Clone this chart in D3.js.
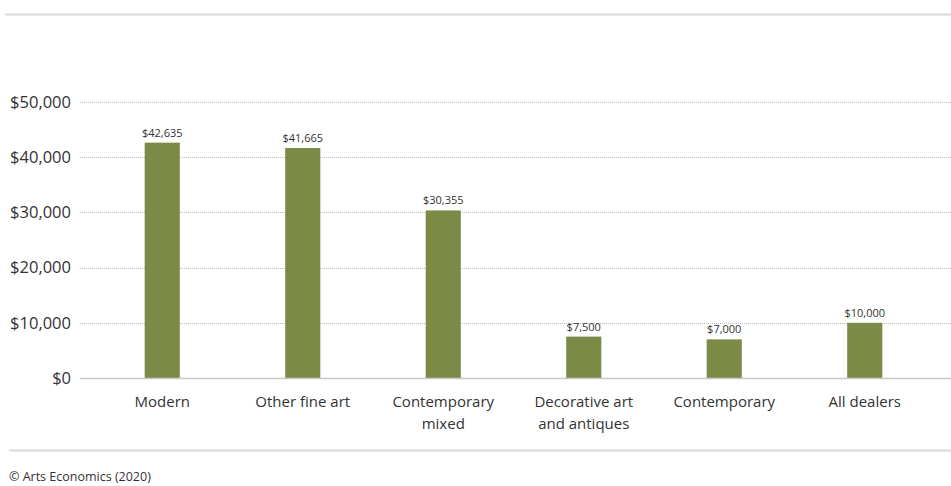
<!DOCTYPE html>
<html><head><meta charset="utf-8">
<script src="https://cdnjs.cloudflare.com/ajax/libs/d3/7.8.5/d3.min.js"></script>
<style>body{margin:0;background:#fff;} text{font-family:"Open Sans",sans-serif;fill:#333;}</style>
</head><body><svg id="c" width="951" height="486"></svg>
<script>
const categories = [["Modern"],["Other fine art"],["Contemporary","mixed"],["Decorative art","and antiques"],["Contemporary"],["All dealers"]];
const values = [42635, 41665, 30355, 7500, 7000, 10000];
const valueLabels = ["$42,635","$41,665","$30,355","$7,500","$7,000","$10,000"];
const yTicks = [0, 10000, 20000, 30000, 40000, 50000];
const yTickLabels = ["$0","$10,000","$20,000","$30,000","$40,000","$50,000"];

const svg = d3.select("#c");
const x = d3.scaleBand().domain(d3.range(values.length)).range([92, 935]).paddingInner(0.75).paddingOuter(0.375);
const y = d3.scaleLinear().domain([0, 50000]).range([378, 102]);

svg.append("line").attr("x1",5).attr("x2",951).attr("y1",14.5).attr("y2",14.5).attr("stroke","#d9d9d9").attr("stroke-width",2);
svg.append("line").attr("x1",9).attr("x2",951).attr("y1",450.5).attr("y2",450.5).attr("stroke","#d9d9d9").attr("stroke-width",2);

// gridlines
svg.selectAll(".grid").data(yTicks.filter(d=>d>0)).join("line")
  .attr("x1",80).attr("x2",951).attr("y1",d=>Math.round(y(d))+0.5).attr("y2",d=>Math.round(y(d))+0.5)
  .attr("stroke","#bdbdbd").attr("stroke-dasharray","1,1");
svg.selectAll(".yl").data(yTicks).join("text")
  .attr("x",71).attr("y",d=>y(d)).attr("dy","0.35em").attr("text-anchor","end")
  .attr("font-size",16.5).text((d,i)=>yTickLabels[i]);

svg.selectAll(".bar").data(values).join("rect")
  .attr("x",(d,i)=>x(i)).attr("width",x.bandwidth())
  .attr("y",d=>y(d)).attr("height",d=>y(0)-y(d)).attr("fill","#7b8b47");

svg.append("line").attr("x1",80).attr("x2",951).attr("y1",378.5).attr("y2",378.5).attr("stroke","#c8c8c8").attr("stroke-width",1.5);

svg.selectAll(".vl").data(values).join("text")
  .attr("x",(d,i)=>x(i)+x.bandwidth()/2).attr("y",d=>y(d)-6).attr("text-anchor","middle")
  .attr("font-size",11).text((d,i)=>valueLabels[i]);

const cl = svg.selectAll(".cl").data(categories).join("text")
  .attr("x",(d,i)=>x(i)+x.bandwidth()/2).attr("y",407).attr("text-anchor","middle").attr("font-size",15);
cl.each(function(d,i){
  const t=d3.select(this);
  d.forEach((s,j)=>t.append("tspan").attr("x",x(i)+x.bandwidth()/2).attr("dy",j?22:0).text(s));
});

svg.append("text").attr("x",9).attr("y",481).attr("font-size",12.5).text("© Arts Economics (2020)");
</script></body></html>
